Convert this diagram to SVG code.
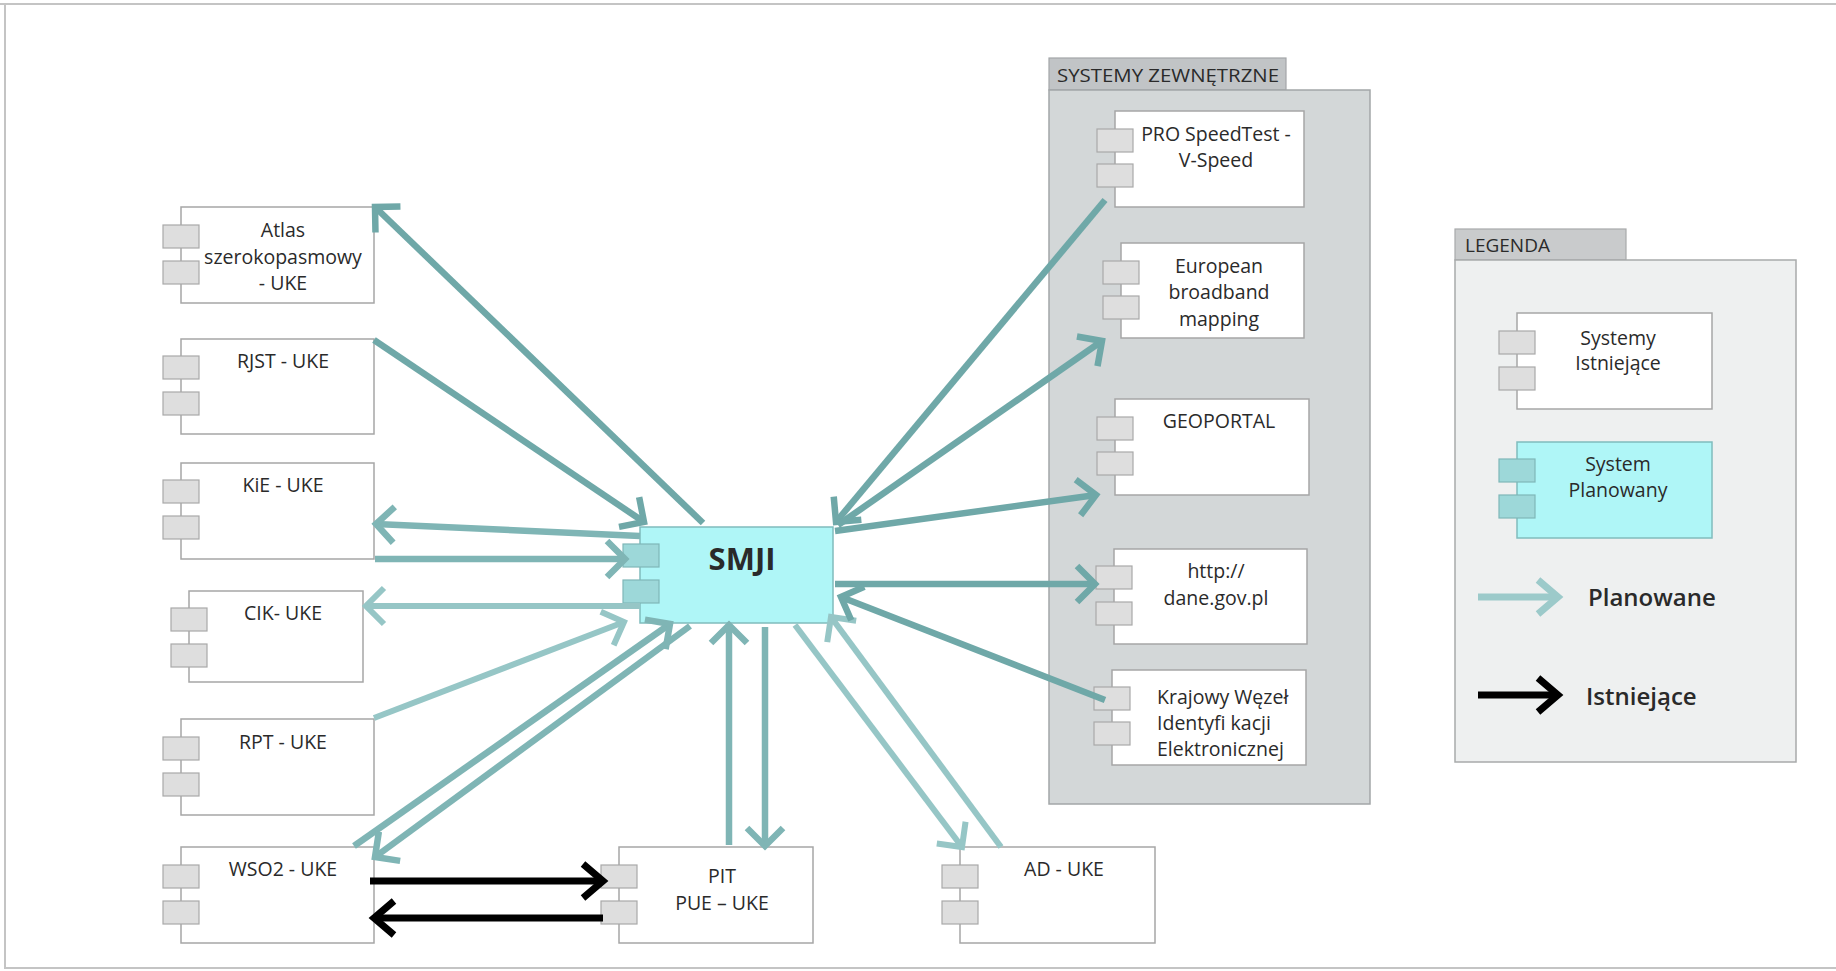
<svg xmlns="http://www.w3.org/2000/svg" width="1836" height="971" viewBox="0 0 1836 971">
<defs>
<style>
.box{fill:#ffffff;stroke:#a6a6a6;stroke-width:1.5}
.tab{fill:#dedede;stroke:#a9a9a9;stroke-width:1.2}
.sbox{fill:#aff6f7;stroke:#80bcbd;stroke-width:1.5}
.stab{fill:#9dd8d9;stroke:#7fb7b8;stroke-width:1.2}
text{font-family:"Open Sans","Noto Sans","Liberation Sans",sans-serif;fill:#2a2a2a}
.lbl{font-size:19.5px;text-anchor:middle}
.lbls{font-size:19.5px;text-anchor:start}
.pk{font-size:19px}
.leg{font-size:24px;font-weight:600}
.c{fill:none;stroke-linecap:butt}
.dk{stroke:#6fa8a8;stroke-width:6.5}
.md{stroke:#7fb5b5;stroke-width:6.5}
.lt{stroke:#96c6c6;stroke-width:6}
.bk{stroke:#000000;stroke-width:7}
.lg{stroke:#9ccaca;stroke-width:7}
</style>
<marker id="mDk" markerUnits="userSpaceOnUse" viewBox="-30 -30 40 60" refX="0" refY="0" markerWidth="40" markerHeight="60" orient="auto" overflow="visible">
<path d="M-18,-18 L0,0 L-18,18" fill="none" stroke="#6fa8a8" stroke-width="6.5"/>
</marker>
<marker id="mMd" markerUnits="userSpaceOnUse" viewBox="-30 -30 40 60" refX="0" refY="0" markerWidth="40" markerHeight="60" orient="auto" overflow="visible">
<path d="M-18,-18 L0,0 L-18,18" fill="none" stroke="#7fb5b5" stroke-width="6.5"/>
</marker>
<marker id="mLt" markerUnits="userSpaceOnUse" viewBox="-30 -30 40 60" refX="0" refY="0" markerWidth="40" markerHeight="60" orient="auto" overflow="visible">
<path d="M-18,-18 L0,0 L-18,18" fill="none" stroke="#96c6c6" stroke-width="6"/>
</marker>
<marker id="mBk" markerUnits="userSpaceOnUse" viewBox="-30 -30 40 60" refX="0" refY="0" markerWidth="40" markerHeight="60" orient="auto" overflow="visible">
<path d="M-20,-17 L0,0 L-20,17" fill="none" stroke="#000000" stroke-width="7"/>
</marker>
<marker id="mLg" markerUnits="userSpaceOnUse" viewBox="-30 -30 40 60" refX="0" refY="0" markerWidth="40" markerHeight="60" orient="auto" overflow="visible">
<path d="M-20,-17 L0,0 L-20,17" fill="none" stroke="#9ccaca" stroke-width="7"/>
</marker>
</defs>
<rect x="0" y="0" width="1836" height="971" fill="#ffffff"/>
<g id="frame" fill="none" stroke="#c4c4c4" stroke-width="2">
<path d="M0,4 H1836 M5,4 V968 H1836"/>
</g>

<g id="pkg-external">
<rect x="1049" y="58" width="237" height="32" fill="#c1c4c6" stroke="#a3a6a8" stroke-width="1.2"/>
<rect x="1049" y="90" width="321" height="714" fill="#d3d7d8" stroke="#a3a6a8" stroke-width="1.5"/>
<text class="pk" x="1057" y="82" textLength="222" lengthAdjust="spacingAndGlyphs">SYSTEMY ZEWNĘTRZNE</text>
</g>
<g id="pkg-legend">
<rect x="1455" y="229" width="171" height="31" fill="#c9cbcc" stroke="#a8aaab" stroke-width="1.2"/>
<rect x="1455" y="260" width="341" height="502" fill="#eef0f0" stroke="#a8aaab" stroke-width="1.5"/>
<text class="pk" x="1465" y="252">LEGENDA</text>
</g>

<g id="atlas">
<rect class="box" x="181" y="207" width="193" height="96"/>
<rect class="tab" x="163" y="225" width="36" height="23"/>
<rect class="tab" x="163" y="261" width="36" height="23"/>
<text class="lbl" x="283" y="237">Atlas</text>
<text class="lbl" x="283" y="264">szerokopasmowy</text>
<text class="lbl" x="283" y="290">- UKE</text>
</g>
<g id="rjst">
<rect class="box" x="181" y="339" width="193" height="95"/>
<rect class="tab" x="163" y="356" width="36" height="23"/>
<rect class="tab" x="163" y="392" width="36" height="23"/>
<text class="lbl" x="283" y="368">RJST - UKE</text>
</g>
<g id="kie">
<rect class="box" x="181" y="463" width="193" height="96"/>
<rect class="tab" x="163" y="480" width="36" height="23"/>
<rect class="tab" x="163" y="516" width="36" height="23"/>
<text class="lbl" x="283" y="492">KiE - UKE</text>
</g>
<g id="cik">
<rect class="box" x="189" y="591" width="174" height="91"/>
<rect class="tab" x="171" y="608" width="36" height="23"/>
<rect class="tab" x="171" y="644" width="36" height="23"/>
<text class="lbl" x="283" y="620">CIK- UKE</text>
</g>
<g id="rpt">
<rect class="box" x="181" y="719" width="193" height="96"/>
<rect class="tab" x="163" y="737" width="36" height="23"/>
<rect class="tab" x="163" y="773" width="36" height="23"/>
<text class="lbl" x="283" y="749">RPT - UKE</text>
</g>
<g id="wso2">
<rect class="box" x="181" y="847" width="193" height="96"/>
<rect class="tab" x="163" y="865" width="36" height="23"/>
<rect class="tab" x="163" y="901" width="36" height="23"/>
<text class="lbl" x="283" y="876">WSO2 - UKE</text>
</g>
<g id="pit">
<rect class="box" x="619" y="847" width="194" height="96"/>
<rect class="tab" x="601" y="865" width="36" height="23"/>
<rect class="tab" x="601" y="901" width="36" height="23"/>
<text class="lbl" x="722" y="883">PIT</text>
<text class="lbl" x="722" y="910">PUE – UKE</text>
</g>
<g id="ad">
<rect class="box" x="960" y="847" width="195" height="96"/>
<rect class="tab" x="942" y="865" width="36" height="23"/>
<rect class="tab" x="942" y="901" width="36" height="23"/>
<text class="lbl" x="1064" y="876">AD - UKE</text>
</g>
<g id="smji">
<rect class="sbox" x="640" y="527" width="193" height="96"/>
<rect class="stab" x="623" y="544" width="36" height="23"/>
<rect class="stab" x="623" y="580" width="36" height="23"/>
<text x="742" y="570" font-size="31" font-weight="bold" text-anchor="middle" fill="#111111">SMJI</text>
</g>
<g id="prospeedtest">
<rect class="box" x="1115" y="111" width="189" height="96"/>
<rect class="tab" x="1097" y="129" width="36" height="23"/>
<rect class="tab" x="1097" y="164" width="36" height="23"/>
<text class="lbl" x="1216" y="141">PRO SpeedTest -</text>
<text class="lbl" x="1216" y="167">V-Speed</text>
</g>
<g id="european">
<rect class="box" x="1121" y="243" width="183" height="95"/>
<rect class="tab" x="1103" y="261" width="36" height="23"/>
<rect class="tab" x="1103" y="296" width="36" height="23"/>
<text class="lbl" x="1219" y="273">European</text>
<text class="lbl" x="1219" y="299">broadband</text>
<text class="lbl" x="1219" y="326">mapping</text>
</g>
<g id="geoportal">
<rect class="box" x="1115" y="399" width="194" height="96"/>
<rect class="tab" x="1097" y="417" width="36" height="23"/>
<rect class="tab" x="1097" y="452" width="36" height="23"/>
<text class="lbl" x="1219" y="428">GEOPORTAL</text>
</g>
<g id="dane">
<rect class="box" x="1114" y="549" width="193" height="95"/>
<rect class="tab" x="1096" y="566" width="36" height="23"/>
<rect class="tab" x="1096" y="602" width="36" height="23"/>
<text class="lbl" x="1216" y="578">http://</text>
<text class="lbl" x="1216" y="605">dane.gov.pl</text>
</g>
<g id="krajowy">
<rect class="box" x="1112" y="670" width="194" height="95"/>
<rect class="tab" x="1094" y="687" width="36" height="23"/>
<rect class="tab" x="1094" y="722" width="36" height="23"/>
<text class="lbls" x="1157" y="704">Krajowy Węzeł</text>
<text class="lbls" x="1157" y="730">Identyfi kacji</text>
<text class="lbls" x="1157" y="756">Elektronicznej</text>
</g>
<g id="legend-existing">
<rect class="box" x="1517" y="313" width="195" height="96"/>
<rect class="tab" x="1499" y="331" width="36" height="23"/>
<rect class="tab" x="1499" y="367" width="36" height="23"/>
<text class="lbl" x="1618" y="345">Systemy</text>
<text class="lbl" x="1618" y="370">Istniejące</text>
</g>
<g id="legend-planned">
<rect class="sbox" x="1517" y="442" width="195" height="96"/>
<rect class="stab" x="1499" y="459" width="36" height="23"/>
<rect class="stab" x="1499" y="495" width="36" height="23"/>
<text class="lbl" x="1618" y="471">System</text>
<text class="lbl" x="1618" y="497">Planowany</text>
</g>
<g id="legend-arrows">
<line class="c lg" x1="1478" y1="597" x2="1558" y2="597" marker-end="url(#mLg)"/>
<text class="leg" x="1588" y="606">Planowane</text>
<line class="c bk" x1="1478" y1="695" x2="1558" y2="695" marker-end="url(#mBk)"/>
<text class="leg" x="1586" y="705">Istniejące</text>
</g>

<g id="connectors">
<line class="c dk" x1="703" y1="523" x2="375" y2="207" marker-end="url(#mDk)"/>
<line class="c dk" x1="374" y1="340" x2="644" y2="522" marker-end="url(#mDk)"/>
<line class="c md" x1="640" y1="536" x2="376" y2="524" marker-end="url(#mMd)"/>
<line class="c md" x1="375" y1="559" x2="625" y2="559" marker-end="url(#mMd)"/>
<line class="c lt" x1="640" y1="606" x2="366" y2="606" marker-end="url(#mLt)"/>
<line class="c lt" x1="374" y1="718" x2="624" y2="622" marker-end="url(#mLt)"/>
<line class="c md" x1="354" y1="846" x2="670" y2="624" marker-end="url(#mMd)"/>
<line class="c md" x1="690" y1="626" x2="375" y2="857" marker-end="url(#mMd)"/>
<line class="c md" x1="729" y1="845" x2="729" y2="625" marker-end="url(#mMd)"/>
<line class="c md" x1="765" y1="627" x2="765" y2="846" marker-end="url(#mMd)"/>
<line class="c bk" x1="370" y1="881" x2="603" y2="881" marker-end="url(#mBk)"/>
<line class="c bk" x1="603" y1="918" x2="374" y2="918" marker-end="url(#mBk)"/>
<line class="c lt" x1="795" y1="625" x2="962" y2="847" marker-end="url(#mLt)"/>
<line class="c lt" x1="1001" y1="847" x2="831" y2="617" marker-end="url(#mLt)"/>
<line class="c dk" x1="1105" y1="200" x2="836" y2="522" marker-end="url(#mDk)"/>
<line class="c dk" x1="838" y1="525" x2="1102" y2="341" marker-end="url(#mDk)"/>
<line class="c dk" x1="835" y1="531" x2="1096" y2="495" marker-end="url(#mDk)"/>
<line class="c dk" x1="835" y1="584" x2="1095" y2="584" marker-end="url(#mDk)"/>
<line class="c dk" x1="1105" y1="700" x2="841" y2="597" marker-end="url(#mDk)"/>
</g>
</svg>
